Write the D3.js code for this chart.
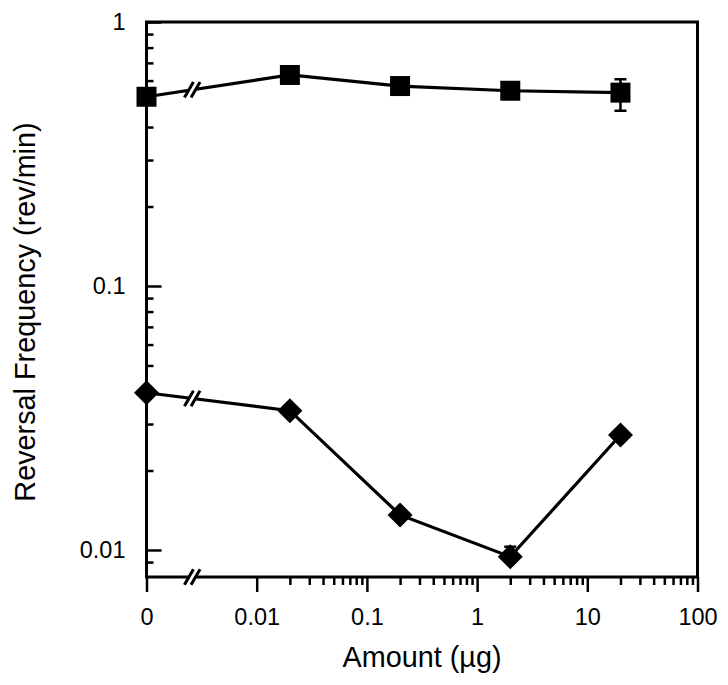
<!DOCTYPE html>
<html>
<head>
<meta charset="utf-8">
<script src="https://cdn.jsdelivr.net/npm/d3@7"></script>
<style>
  html, body { margin: 0; padding: 0; background: #fff; }
  svg { display: block; }
  text { font-family: "Liberation Sans", Arial, Helvetica, sans-serif; fill: #000; }
</style>
</head>
<body>
<svg id="chart" width="728" height="685"></svg>
<script>
// ---- data ----
const amounts = [0, 0.02, 0.2, 2, 20];                    // µg ("0" drawn at the broken-axis origin)
const squareValues = [0.521, 0.630, 0.572, 0.549, 0.540];
const squareErrLow  = [null, null, null, null, 0.461];
const squareErrHigh = [null, null, null, null, 0.607];
const diamondValues = [0.0394, 0.0337, 0.01357, 0.00943, 0.02725];
const diamondErrLow  = [null, null, null, null, null];
const diamondErrHigh = [null, null, null, 0.01029, null];
const xTickValues = [0.01, 0.1, 1, 10, 100];
const xTickLabels = ["0.01", "0.1", "1", "10", "100"];
const xZeroLabel = "0";
const yTickValues = [0.01, 0.1, 1];
const yTickLabels = ["0.01", "0.1", "1"];
const xTitle = "Amount (\u00B5g)";
const yTitle = "Reversal Frequency (rev/min)";

// ---- layout ----
const L = 146.5, R = 697.5, T = 22, B = 577;
const zeroProxy = 0.001;
const svg = d3.select("#chart");

const x = d3.scaleLog().domain([zeroProxy, 100]).range([L, R]);
const y = d3.scaleLog().domain([0.0079, 1]).range([B, T]);
const xPos = v => (v === 0 ? x(zeroProxy) : x(v));

// minor ticks
const xMinor = [];
[0.01, 0.1, 1, 10].forEach(d => { for (let k = 2; k <= 9; k++) xMinor.push(d * k); });
const yMinor = [];
[0.001, 0.01, 0.1].forEach(d => { for (let k = 2; k <= 9; k++) { const v = d * k; if (v >= 0.0085 && v < 1) yMinor.push(v); } });

const fmtX = d => (d === zeroProxy ? xZeroLabel : xTickLabels[xTickValues.indexOf(d)]);
const fmtY = d => yTickLabels[yTickValues.indexOf(d)];

// x axis (ticks point outward)
const gxMinor = svg.append("g").attr("transform", `translate(0,${B})`)
  .call(d3.axisBottom(x).tickValues(xMinor).tickSize(8).tickFormat(""));
const gx = svg.append("g").attr("transform", `translate(0,${B})`)
  .call(d3.axisBottom(x).tickValues([zeroProxy].concat(xTickValues)).tickSize(15).tickPadding(9).tickFormat(fmtX));
[gxMinor, gx].forEach(g => {
  g.selectAll(".domain").remove();
  g.selectAll("line").attr("stroke", "#000").attr("stroke-width", 2.5);
});
gx.selectAll("text").style("font-size", "23.5px").attr("dy", "1em");

// y axis (ticks point inward)
const gyMinor = svg.append("g").attr("transform", `translate(${L},0)`)
  .call(d3.axisLeft(y).tickValues(yMinor).tickSize(-7).tickFormat(""));
const gy = svg.append("g").attr("transform", `translate(${L},0)`)
  .call(d3.axisLeft(y).tickValues(yTickValues).tickSize(-15).tickPadding(21).tickFormat(fmtY));
[gyMinor, gy].forEach(g => {
  g.selectAll(".domain").remove();
  g.selectAll("line").attr("stroke", "#000").attr("stroke-width", 2.5);
});
gy.selectAll("text").style("font-size", "23.5px").attr("dy", "0.3em");

// frame
svg.append("rect").attr("x", L).attr("y", T).attr("width", R - L).attr("height", B - T)
  .attr("fill", "none").attr("stroke", "#000").attr("stroke-width", 3);

// titles
svg.append("text").attr("x", (L + R) / 2).attr("y", 667).attr("text-anchor", "middle")
  .style("font-size", "28.8px").text(xTitle);
svg.append("text").attr("transform", `translate(35,312) rotate(-90)`).attr("text-anchor", "middle")
  .style("font-size", "28.8px").text(yTitle);

// break mark helper
const breakX = x(zeroProxy) + 0.415 * (x(0.01) - x(zeroProxy));
function breakMark(cx, cy) {
  const g = svg.append("g");
  const ang = 60 * Math.PI / 180, len = 9, gap = 3.3;
  const dx = Math.cos(ang) * len, dy = -Math.sin(ang) * len;
  g.append("polygon")
    .attr("points", [[cx - gap - dx, cy - dy], [cx - gap + dx, cy + dy], [cx + gap + dx, cy + dy], [cx + gap - dx, cy - dy]].map(p => p.join(",")).join(" "))
    .attr("fill", "#fff");
  [-gap, gap].forEach(o => {
    g.append("line").attr("x1", cx + o - dx).attr("y1", cy - dy).attr("x2", cx + o + dx).attr("y2", cy + dy)
      .attr("stroke", "#000").attr("stroke-width", 3);
  });
}
breakMark(breakX, B);

// series
function drawSeries(values, lo, hi, shape) {
  const pts = amounts.map((a, i) => ({ a, v: values[i], lo: lo[i], hi: hi[i] }));
  svg.append("path").datum(pts)
    .attr("d", d3.line().x(d => xPos(d.a)).y(d => y(d.v)))
    .attr("fill", "none").attr("stroke", "#000").attr("stroke-width", 3.2);
  // break on the first segment
  const p0 = pts[0], p1 = pts[1];
  const t = (breakX - xPos(p0.a)) / (xPos(p1.a) - xPos(p0.a));
  breakMark(breakX, y(p0.v) + t * (y(p1.v) - y(p0.v)));
  // error bars
  pts.forEach(d => {
    const cx = xPos(d.a);
    const top = d.hi != null ? y(d.hi) : null, bot = d.lo != null ? y(d.lo) : null;
    const g = svg.append("g").attr("stroke", "#000").attr("stroke-width", 2.5);
    if (top != null) {
      g.append("line").attr("x1", cx).attr("x2", cx).attr("y1", top).attr("y2", y(d.v));
      g.append("line").attr("x1", cx - 6).attr("x2", cx + 6).attr("y1", top).attr("y2", top);
    }
    if (bot != null) {
      g.append("line").attr("x1", cx).attr("x2", cx).attr("y1", bot).attr("y2", y(d.v));
      g.append("line").attr("x1", cx - 6).attr("x2", cx + 6).attr("y1", bot).attr("y2", bot);
    }
  });
  // markers
  svg.append("g").selectAll("path").data(pts).join("path")
    .attr("transform", d => `translate(${xPos(d.a)},${y(d.v)})`)
    .attr("d", shape)
    .attr("fill", "#000");
}
const squareShape = "M-10,-10H10V10H-10Z";
const diamondShape = "M0,-12.5L12.5,0L0,12.5L-12.5,0Z";
drawSeries(squareValues, squareErrLow, squareErrHigh, squareShape);
drawSeries(diamondValues, diamondErrLow, diamondErrHigh, diamondShape);
</script>
</body>
</html>
